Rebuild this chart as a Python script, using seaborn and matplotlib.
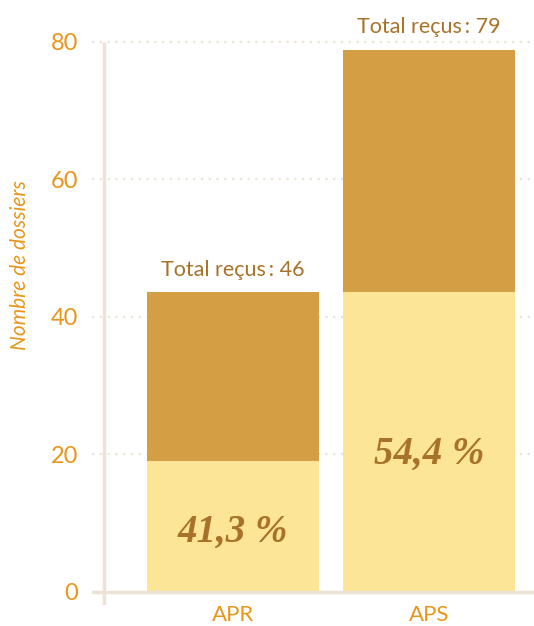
import matplotlib
matplotlib.use("Agg")
import matplotlib.pyplot as plt
import seaborn as sns
import pandas as pd
import numpy as np

categories = ["APR", "APS"]
bottom_vals = [19.0, 43.6]
top_vals = [24.6, 35.3]
total_received = [46, 79]
pct_labels = ["41,3 %", "54,4 %"]
y_ticks = [0, 20, 40, 60, 80]

C_TOP = "#d49e45"
C_BOT = "#fde598"
C_TEXT = "#a8722a"
C_TICK = "#e8951a"
C_AXIS = "#ede3d5"

sns.set_theme(style="white")
plt.rcParams["font.family"] = ["Lato", "DejaVu Sans"]

fig = plt.figure(figsize=(5.34, 6.26), dpi=100)
ax = fig.add_axes([92/534, (626-605)/626, 1-92/534, (605-28.25)/626])

df = pd.DataFrame({"cat": categories,
                   "bottom": bottom_vals,
                   "total": np.array(bottom_vals) + np.array(top_vals)})

sns.barplot(data=df, x="cat", y="total", color=C_TOP, width=0.878,
            saturation=1, ax=ax, zorder=3)
sns.barplot(data=df, x="cat", y="bottom", color=C_BOT, width=0.878,
            saturation=1, ax=ax, zorder=3)
for p in ax.patches:
    p.set_edgecolor("none")

ax.set_xlim(-0.719, 1.536)
ax.set_ylim(-1.9, 82)

for yt in y_ticks[1:]:
    ax.axhline(yt, color=C_AXIS, lw=1.6, ls=(0, (1, 2.5)), zorder=1)
ax.axhline(0, color=C_AXIS, lw=2.5, zorder=4)
ax.plot([-0.658, -0.658], [-1.9, 80], color=C_AXIS, lw=2.5, zorder=4,
        solid_capstyle="butt")

for s in ax.spines.values():
    s.set_visible(False)

ax.set_yticks(y_ticks)
ax.set_yticklabels([str(v) for v in y_ticks], color=C_TICK, fontsize=17)
ax.tick_params(axis="y", length=0, pad=10)
ax.tick_params(axis="x", length=0, pad=0, labelcolor=C_TICK, labelsize=16)
ax.set_xlabel("")
ax.set_ylabel("Nombre de dossiers", color=C_TICK, fontsize=15,
              style="italic")
ax.yaxis.set_label_coords(-0.14, 0.59)

for i, (tot, b, t) in enumerate(zip(total_received, bottom_vals, top_vals)):
    ax.annotate(f"Total reçus\u2009: {tot}", (i, b + t), xytext=(0, 9),
                textcoords="offset points", ha="center", va="bottom",
                color=C_TEXT, fontsize=15.5, annotation_clip=False)
    ax.text(i, b * 0.46, pct_labels[i], ha="center", va="center",
            color=C_TEXT, fontsize=28, fontweight="bold", style="italic",
            family=["Liberation Serif", "DejaVu Serif"], zorder=5)

fig.savefig("out.png", dpi=100)
